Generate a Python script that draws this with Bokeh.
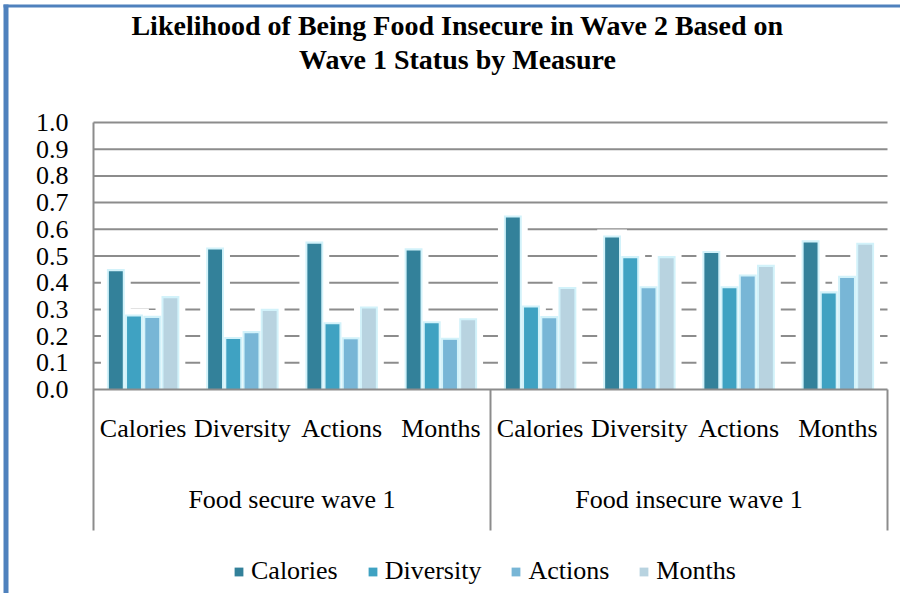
from bokeh.plotting import figure
from bokeh.models import Range1d, ColumnDataSource, Legend, LegendItem
from bokeh.core.properties import value
from bokeh.embed import file_html
from bokeh.resources import INLINE

# ---------------- data ----------------
groups = ["Food secure wave 1", "Food insecure wave 1"]
measures = ["Calories", "Diversity", "Actions", "Months"]
series = ["Calories", "Diversity", "Actions", "Months"]
calories = [0.443, 0.524, 0.546, 0.521, 0.644, 0.569, 0.511, 0.551]
diversity = [0.273, 0.189, 0.244, 0.248, 0.307, 0.492, 0.379, 0.360]
actions = [0.268, 0.211, 0.188, 0.186, 0.267, 0.379, 0.423, 0.418]
months = [0.342, 0.294, 0.303, 0.259, 0.376, 0.492, 0.459, 0.542]
y_ticks = [0.0, 0.1, 0.2, 0.3, 0.4, 0.5, 0.6, 0.7, 0.8, 0.9, 1.0]
y_tick_labels = ["0.0", "0.1", "0.2", "0.3", "0.4", "0.5", "0.6", "0.7", "0.8", "0.9", "1.0"]
title_lines = ["Likelihood of Being Food Insecure in Wave 2 Based on",
               "Wave 1 Status by Measure"]

# ---------------- layout / style ----------------
W, H = 900, 593
X_PX0, X_PPU = 93.0, 99.25      # pixel of x=0, pixels per category
Y_PX0, Y_PPU = 389.0, 267.0     # pixel of y=0, pixels per unit


def dx(px):
    return (px - X_PX0) / X_PPU


def dy(py):
    return (Y_PX0 - py) / Y_PPU


colors = ["#33819A", "#3FA2C2", "#78B6D6", "#B8D3E0"]
offsets = [-0.275, -0.092, 0.092, 0.275]
bar_w = 0.14
grey = "#8C8C8C"
blue = "#4F81BD"
FONT = "Liberation Serif"
FS = "26px"
sep_bottom = dy(530)

values = [calories, diversity, actions, months]
n_cat = len(groups) * len(measures)
cat_labels = [m for g in groups for m in measures]
centers = [i + 0.5 for i in range(n_cat)]

p = figure(width=W, height=H, output_backend="svg", toolbar_location=None,
           x_range=Range1d(dx(0), dx(W)), y_range=Range1d(dy(H), dy(0)),
           x_axis_location=None, y_axis_location=None,
           min_border_left=0, min_border_right=0, min_border_top=0, min_border_bottom=0)
p.outline_line_color = None
p.background_fill_color = "white"
p.border_fill_color = "white"
p.xgrid.visible = False
p.ygrid.visible = False

# blue chart border (left and top edges)
p.quad(left=[dx(3), dx(3)], right=[dx(8), dx(W + 10)], bottom=[dy(H + 10), dy(7)],
       top=[dy(4), dy(4)], fill_color=blue, line_color=None)

# grid lines
grid_vals = y_ticks[1:]
p.segment(x0=[0] * len(grid_vals), y0=grid_vals, x1=[n_cat] * len(grid_vals), y1=grid_vals,
          line_color=grey, line_width=2)

# halos + bars
for s, vals, c, off in zip(series, values, colors, offsets):
    xs = [ci + off for ci in centers]
    src = ColumnDataSource(dict(x=xs, halo=[v + 0.03 for v in vals]))
    p.vbar(x="x", top="halo", bottom=0, width=bar_w + 0.16, source=src,
           fill_color="white", line_color=None)
bar_renderers = []
for s, vals, c, off in zip(series, values, colors, offsets):
    xs = [ci + off for ci in centers]
    src = ColumnDataSource(dict(x=xs, top=vals, rim=[v + 0.008 for v in vals]))
    p.vbar(x="x", top="rim", bottom=0, width=bar_w + 0.04, source=src,
           fill_color="#D2F2FA", line_color=None)
    r = p.vbar(x="x", top="top", bottom=0, width=bar_w, source=src,
               fill_color=c, line_color=None)
    bar_renderers.append(r)

# axis lines: baseline, y axis, group separators
p.segment(x0=[0], y0=[0], x1=[n_cat], y1=[0], line_color=grey, line_width=2)
p.segment(x0=[0], y0=[y_ticks[-1]], x1=[0], y1=[sep_bottom], line_color=grey, line_width=2)
seps = [len(measures), n_cat]
p.segment(x0=seps, y0=[0] * 2, x1=seps, y1=[sep_bottom] * 2, line_color=grey, line_width=2)

# y tick labels
p.text(x=[dx(68)] * len(y_ticks), y=y_ticks, text=y_tick_labels, text_align="right",
       text_baseline="middle", text_font=value(FONT), text_font_size=value(FS),
       text_color="black")

# category labels
p.text(x=centers, y=[dy(428)] * n_cat, text=cat_labels, text_align="center",
       text_baseline="middle", text_font=value(FONT), text_font_size=value(FS),
       text_color="black")
gcenters = [len(measures) * (k + 0.5) for k in range(len(groups))]
p.text(x=gcenters, y=[dy(499)] * len(groups), text=groups, text_align="center",
       text_baseline="middle", text_font=value(FONT), text_font_size=value(FS),
       text_color="black")

# title
p.text(x=[dx(457)] * 2, y=[dy(25), dy(59)], text=title_lines, text_align="center",
       text_baseline="middle", text_font=value(FONT), text_font_size=value("28px"),
       text_font_style="bold", text_color="black")

legend = Legend(items=[LegendItem(label=s, renderers=[r]) for s, r in zip(series, bar_renderers)],
                orientation="horizontal", location=(233, 7),
                glyph_width=11, glyph_height=11, label_standoff=7, spacing=29,
                padding=0, margin=0, border_line_color=None, background_fill_alpha=0,
                label_text_font=FONT, label_text_font_size=FS, label_text_color="black")
p.add_layout(legend)

open("out.html", "w").write(file_html(p, INLINE))
